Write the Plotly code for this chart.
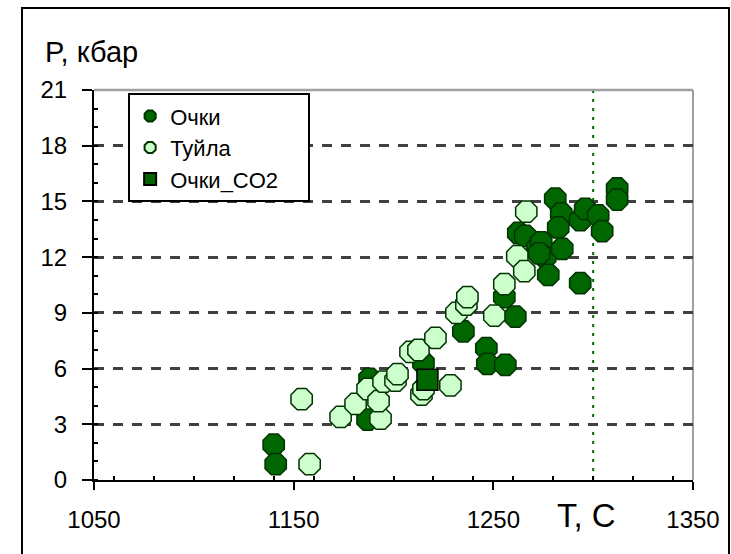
import plotly.graph_objects as go

# ---- data ----
ochki_T = [1140, 1141, 1187, 1188, 1215, 1235, 1246.5, 1247, 1256, 1261, 1255.5,
           1262.5, 1266, 1272, 1274, 1276, 1277.5, 1273, 1281, 1284, 1282.5, 1284.5,
           1293.5, 1296, 1302.5, 1304.5, 1293.5, 1312, 1312]
ochki_P = [1.9, 0.85, 3.25, 5.45, 6.3, 8.0, 7.1, 6.25, 6.2, 8.8, 9.85,
           13.3, 13.15, 12.5, 12.8, 12.0, 11.05, 12.2, 15.15, 14.35, 13.6, 12.45,
           14.0, 14.6, 14.25, 13.4, 10.6, 15.7, 15.1]

tuila_T = [1154, 1158, 1173.5, 1181, 1187, 1193.5, 1192.5, 1195, 1201, 1202,
           1208.5, 1212.5, 1214, 1215, 1221, 1228.5, 1231.5, 1236.5, 1237,
           1250.5, 1255.5, 1262, 1265.5, 1266.5]
tuila_P = [4.35, 0.85, 3.4, 4.1, 4.9, 3.3, 4.25, 5.3, 5.35, 5.7,
           6.9, 7.0, 4.6, 4.9, 7.65, 5.1, 9.0, 9.45, 9.85,
           8.85, 10.55, 12.05, 11.25, 14.45]

co2_T = [1217]
co2_P = [5.4]

series_names = ["Очки", "Туйла", "Очки_CO2"]
x_ticks = [1050, 1150, 1250, 1350]
y_ticks = [0, 3, 6, 9, 12, 15, 18, 21]
ref_T = 1300

DARK = "#006600"
LIGHT = "#ccffcc"
EDGE = "#003300"
FONT = "Liberation Sans, Arial, sans-serif"
PAD = "\u00a0\u00a0\u00a0\u00a0"

fig = go.Figure()
fig.add_trace(go.Scatter(
    x=ochki_T, y=ochki_P, mode="markers", name=series_names[0],
    marker=dict(symbol="octagon", size=23, color=DARK, line=dict(color=EDGE, width=1.5))))
fig.add_trace(go.Scatter(
    x=tuila_T, y=tuila_P, mode="markers", name=series_names[1],
    marker=dict(symbol="octagon", size=23, color=LIGHT, line=dict(color=EDGE, width=1.5))))
fig.add_trace(go.Scatter(
    x=co2_T, y=co2_P, mode="markers", name=series_names[2] + PAD,
    marker=dict(symbol="square", size=21, color=DARK, line=dict(color="black", width=1.5))))

fig.update_layout(
    width=731, height=554,
    margin=dict(l=94, r=38, t=90, b=74),
    paper_bgcolor="white", plot_bgcolor="white",
    font=dict(family=FONT, color="black", size=24),
    showlegend=True,
    legend=dict(x=0.057, y=0.992, xanchor="left", yanchor="top",
                bgcolor="white", bordercolor="black", borderwidth=2,
                font=dict(size=22, family=FONT), itemsizing="constant",
                tracegroupgap=0),
    xaxis=dict(range=[1050, 1350], tickvals=x_ticks, showgrid=False, zeroline=False,
               showline=True, linecolor="black", linewidth=2,
               ticks="outside", ticklen=8, tickwidth=2, tickcolor="black",
               ticklabelstandoff=9,
               minor=dict(dtick=20, ticks="inside", ticklen=4, tickwidth=2,
                          tickcolor="black", showgrid=False),
               tickfont=dict(size=24, family=FONT)),
    yaxis=dict(range=[0, 21], tickvals=y_ticks, showgrid=True, gridcolor="#404040",
               gridwidth=2.5, griddash="10px,9px", zeroline=False,
               showline=True, linecolor="black", linewidth=2,
               ticks="outside", ticklen=10, tickwidth=2, tickcolor="black",
               ticklabelstandoff=10,
               minor=dict(dtick=1, ticks="inside", ticklen=4, tickwidth=2,
                          tickcolor="black", showgrid=False),
               tickfont=dict(size=24, family=FONT)),
)

# plot-area top/right border (grey) and reference line
fig.add_shape(type="line", xref="paper", yref="paper", x0=0, x1=1, y0=1, y1=1,
              line=dict(color="#a0a0a0", width=2.5), layer="above")
fig.add_shape(type="line", xref="paper", yref="paper", x0=1, x1=1, y0=0, y1=1,
              line=dict(color="#a0a0a0", width=2), layer="below")
fig.add_shape(type="line", xref="x", yref="paper", x0=ref_T, x1=ref_T, y0=0, y1=1,
              line=dict(color=DARK, width=2, dash="3px,6px"), layer="below")
# outer frame
fig.add_shape(type="rect", xref="paper", yref="paper",
              x0=(22 - 94) / 599, x1=(729 - 94) / 599,
              y0=(480 - 560) / 390, y1=(480 - 8) / 390,
              line=dict(color="black", width=2), fillcolor="rgba(0,0,0,0)", layer="above")

fig.add_annotation(text="P, кбар", xref="paper", yref="paper",
                   x=(43 - 94) / 599, y=(480 - 52) / 390, xanchor="left", yanchor="middle",
                   showarrow=False, font=dict(size=29, family=FONT, color="black"))
fig.add_annotation(text="T, C", xref="paper", yref="paper",
                   x=(586 - 94) / 599, y=(480 - 515) / 390, xanchor="center", yanchor="middle",
                   showarrow=False, font=dict(size=33, family=FONT, color="black"))

fig.write_html("out.html")
